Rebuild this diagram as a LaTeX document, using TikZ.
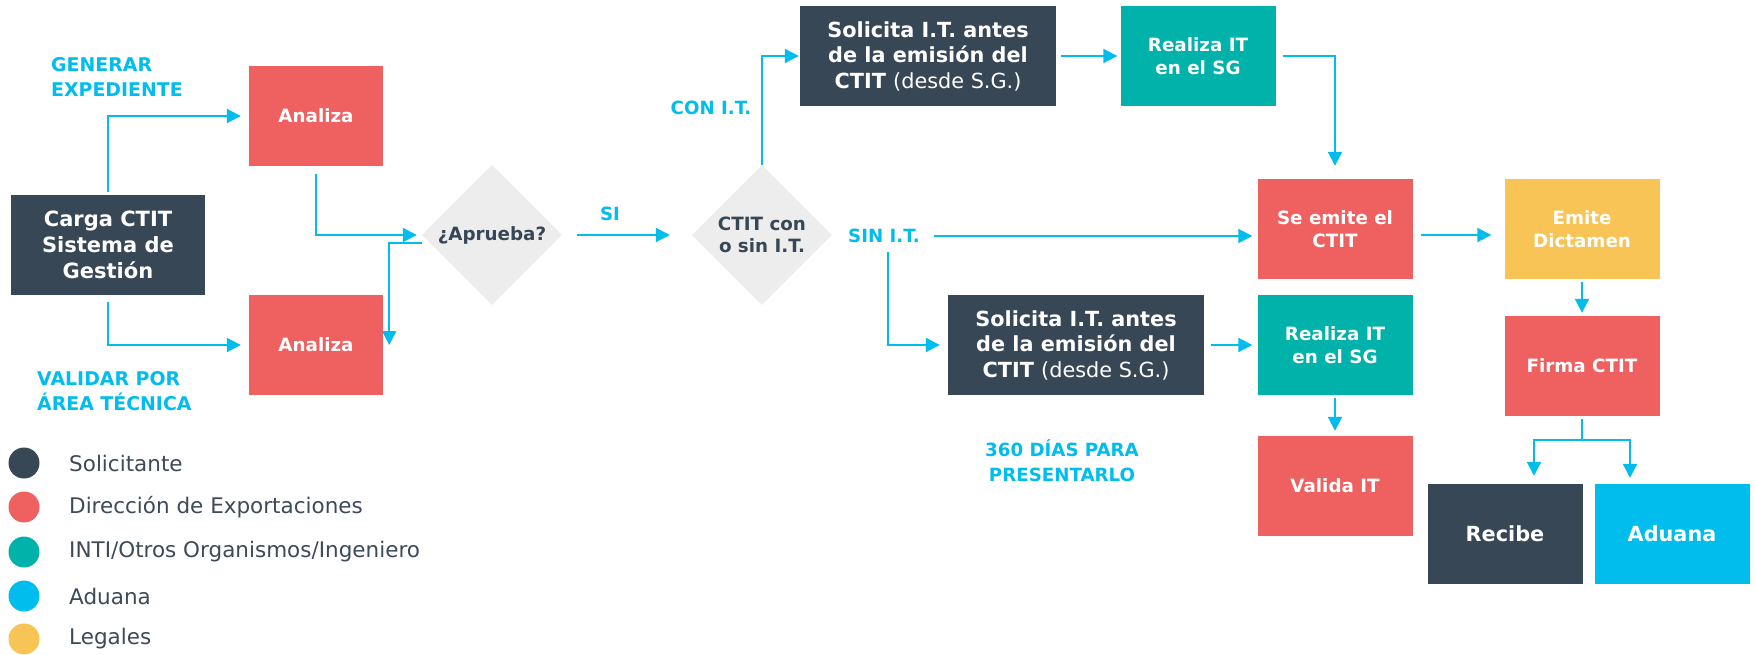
\documentclass[tikz,border=0pt]{standalone}
\usepackage{fontspec}
\setmainfont{DejaVu Sans}
\usetikzlibrary{arrows.meta,shapes.geometric}
\definecolor{slate}{RGB}{56,71,86}
\definecolor{coral}{RGB}{239,97,97}
\definecolor{teal}{RGB}{0,178,170}
\definecolor{sky}{RGB}{0,189,238}
\definecolor{gold}{RGB}{247,196,85}
\definecolor{pale}{RGB}{237,237,237}
\definecolor{legtxt}{RGB}{61,74,89}
\begin{document}
\begin{tikzpicture}[x=1pt,y=-1pt,
  box/.style={rectangle, inner sep=0pt, minimum width=155pt, minimum height=100pt,
    text=white, align=center, font=\bfseries\fontsize{18.3}{23}\selectfont},
  widebox/.style={box, minimum width=256pt, font=\bfseries\fontsize{20.8}{25.5}\selectfont},
  decision/.style={diamond, aspect=1, inner sep=0pt, minimum width=140pt, minimum height=140pt,
    fill=pale, text=slate, align=center, font=\bfseries\fontsize{18.3}{22}\selectfont},
  tag/.style={inner sep=0pt, text=sky, font=\bfseries\fontsize{18.2}{25}\selectfont},
  bigtag/.style={tag, font=\bfseries\fontsize{18.9}{25}\selectfont},
  dot/.style={circle, inner sep=0pt, minimum size=31pt},
  legtext/.style={anchor=west, inner sep=0pt, text=legtxt, font=\fontsize{21.5}{25}\selectfont},
  conn/.style={draw=sky, line width=2pt},
  arr/.style={conn, -{Triangle[length=14pt,width=14pt]}}
]
\useasboundingbox[fill=white] (0,0) rectangle (1756,654);

% boxes
\node[box, fill=slate, minimum width=194pt, font=\bfseries\fontsize{21}{26}\selectfont] (carga) at (108,245) {Carga CTIT\\Sistema de\\Gestión};
\node[box, fill=coral, minimum width=134pt] (ana1) at (316,116) {Analiza};
\node[box, fill=coral, minimum width=134pt] (ana2) at (316,345) {Analiza};
\node[decision] (aprueba) at (492,235) {¿Aprueba?};
\node[decision] (ctit) at (762,235) {CTIT con\\o sin I.T.};
\node[widebox, fill=slate] (sol1) at (928,56) {Solicita I.T. antes\\de la emisión del\\CTIT {\mdseries(desde S.G.)}};
\node[box, fill=teal] (real1) at (1198,56) {Realiza IT\\en el SG};
\node[box, fill=coral] (seemite) at (1335,229) {Se emite el\\CTIT};
\node[box, fill=gold] (emite) at (1582,229) {Emite\\Dictamen};
\node[box, fill=coral] (firma) at (1582,366) {Firma CTIT};
\node[widebox, fill=slate] (sol2) at (1076,345) {Solicita I.T. antes\\de la emisión del\\CTIT {\mdseries(desde S.G.)}};
\node[box, fill=teal] (real2) at (1335,345) {Realiza IT\\en el SG};
\node[box, fill=coral] (valida) at (1335,486) {Valida IT};
\node[box, fill=slate, font=\bfseries\fontsize{20.8}{25}\selectfont] (recibe) at (1505,534) {Recibe};
\node[box, fill=sky, font=\bfseries\fontsize{20.8}{25}\selectfont] (aduana) at (1672,534) {Aduana};

% labels
\node[bigtag, anchor=west, align=left] (generar) at (51,77) {GENERAR\\EXPEDIENTE};
\node[bigtag, anchor=west, align=left] (validar) at (37,391) {VALIDAR POR\\ÁREA TÉCNICA};
\node[tag] (si) at (610,214) {SI};
\node[tag] (conit) at (711,108) {CON I.T.};
\node[tag] (sinit) at (884,236) {SIN I.T.};
\node[tag, align=center] (dias) at (1062,461) {360 DÍAS PARA\\PRESENTARLO};

% connectors
\draw[arr, shorten <=3pt, shorten >=8pt] (carga.north) |- (ana1.west);
\draw[arr, shorten <=7pt, shorten >=8pt] (carga.south) |- (ana2.west);
\draw[arr, shorten <=8pt, shorten >=5pt] (ana1.south) |- (aprueba.west);
\draw[arr] ([yshift=-8pt]aprueba.west) -| ([xshift=6pt]ana2.east);
\draw[arr, shorten <=15pt, shorten >=22pt] (aprueba.east) -- (ctit.west);
\draw[arr, shorten >=1pt] (ctit.north) |- (sol1.west);
\draw[arr, shorten <=5pt, shorten >=3pt] (sol1.east) -- (real1.west);
\draw[arr, shorten <=7pt, shorten >=13pt] (real1.east) -| (seemite.north);
\draw[arr, shorten <=14pt, shorten >=5pt] (sinit.east) -- (seemite.west |- sinit.east);
\coordinate (sindown) at (888,252);
\draw[arr, shorten >=8pt] (sindown) |- (sol2.west);
\draw[arr, shorten <=7pt, shorten >=5pt] (sol2.east) -- (real2.west);
\draw[arr, shorten <=3pt, shorten >=5pt] (real2.south) -- (valida.north);
\draw[arr, shorten <=8pt, shorten >=13pt] ([yshift=-6pt]seemite.east) -- ([yshift=-6pt]emite.west);
\draw[arr, shorten <=3pt, shorten >=3pt] (emite.south) -- (firma.north);
\coordinate (fork) at (1582,440);
\draw[conn, shorten <=3pt] (firma.south) -- (fork);
\draw[arr, shorten >=8pt] (fork) -| ([xshift=29pt]recibe.north);
\draw[arr, shorten >=6pt] (fork) -| ([xshift=-42pt]aduana.north);

% legend
\node[dot, fill=slate] (d1) at (24,463) {};
\node[dot, fill=coral] (d2) at (24,507) {};
\node[dot, fill=teal] (d3) at (24,552) {};
\node[dot, fill=sky] (d4) at (24,596) {};
\node[dot, fill=gold] (d5) at (24,639) {};
\node[legtext] (t1) at (69,463) {Solicitante};
\node[legtext] (t2) at (69,507) {Dirección de Exportaciones};
\node[legtext] (t3) at (69,552) {INTI/Otros Organismos/Ingeniero};
\node[legtext] (t4) at (69,596) {Aduana};
\node[legtext] (t5) at (69,639) {Legales};
\end{tikzpicture}
\end{document}
